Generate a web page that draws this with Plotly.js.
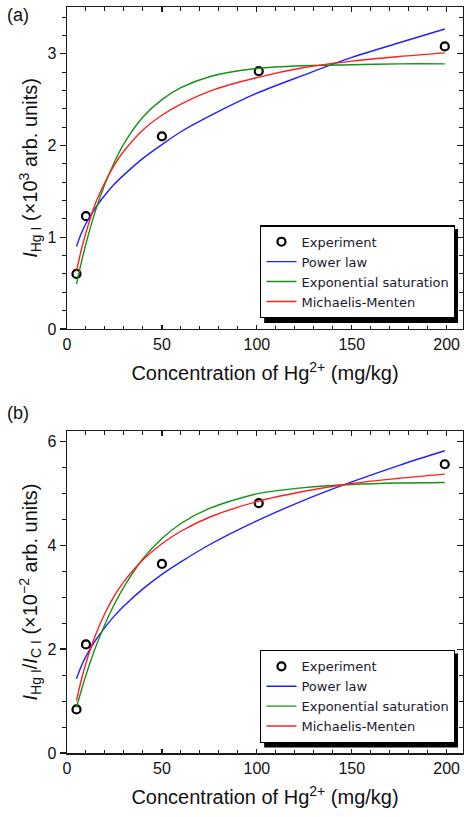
<!DOCTYPE html>
<html>
<head>
<meta charset="utf-8">
<script src="https://cdn.plot.ly/plotly-3.0.1.min.js"></script>
<style>html,body{margin:0;padding:0;background:#fff;}#chart{width:464px;height:817px;}</style>
</head>
<body>
<div id="chart"></div>
<script>
// ---- Data ----
var expX = [5, 10, 50, 101, 199];
// Panel (a): I_HgI (x10^3 arb. units)
var expA = [0.60, 1.23, 2.10, 2.81, 3.08];
// Panel (b): I_HgI / I_CI (x10^-2 arb. units)
var expB = [0.84, 2.09, 3.64, 4.81, 5.56];

var fitX = [5, 7.5, 10, 15, 20, 25, 30, 40, 50, 60, 75, 100, 125, 150, 175, 199];
var powerA = [0.90, 1.04, 1.15, 1.32, 1.46, 1.58, 1.68, 1.86, 2.01, 2.15, 2.32, 2.57, 2.77, 2.96, 3.12, 3.27];
var expSatA = [0.49, 0.72, 0.93, 1.29, 1.58, 1.82, 2.02, 2.31, 2.50, 2.63, 2.75, 2.84, 2.87, 2.88, 2.89, 2.89];
var mmA = [0.63, 0.86, 1.05, 1.37, 1.60, 1.79, 1.94, 2.17, 2.33, 2.45, 2.59, 2.74, 2.85, 2.92, 2.97, 3.01];

var powerB = [1.43, 1.67, 1.86, 2.17, 2.42, 2.64, 2.83, 3.16, 3.44, 3.68, 4.01, 4.47, 4.87, 5.22, 5.54, 5.82];
var expSatB = [0.88, 1.20, 1.50, 2.03, 2.48, 2.87, 3.20, 3.74, 4.13, 4.42, 4.71, 4.99, 5.11, 5.17, 5.20, 5.21];
var mmB = [1.01, 1.40, 1.73, 2.27, 2.69, 3.03, 3.30, 3.72, 4.03, 4.27, 4.54, 4.84, 5.04, 5.19, 5.29, 5.37];

var seriesNames = ["Experiment", "Power law", "Exponential saturation", "Michaelis-Menten"];
var lineColors = ["#1f1fff", "#169016", "#ff1f1f"];

var xTitle = "Concentration of Hg<sup>2+</sup> (mg/kg)";
var yTitleA = "<i>I</i><sub>Hg I</sub> (×10<sup>3</sup> arb. units)";
var yTitleB = "<i>I</i><sub>Hg I</sub>/<i>I</i><sub>C I</sub> (×10<sup>−2</sup> arb. units)";

var FONT = "Liberation Sans, Arial, sans-serif";
var LEGFONT = "DejaVu Sans, Liberation Sans, sans-serif";

function panelTraces(xa, ya, legendId, expY, curves) {
  var tr = [];
  tr.push({
    x: expX, y: expY, xaxis: xa, yaxis: ya, legend: legendId,
    type: "scatter", mode: "markers", name: seriesNames[0],
    marker: {symbol: "circle-open", size: 8, color: "#000", line: {width: 2.2, color: "#000"}},
    hoverinfo: "skip"
  });
  for (var i = 0; i < 3; i++) {
    tr.push({
      x: fitX, y: curves[i], xaxis: xa, yaxis: ya, legend: legendId,
      type: "scatter", mode: "lines", name: seriesNames[i + 1],
      line: {color: lineColors[i], width: 1.4, shape: "spline", smoothing: 0.8},
      hoverinfo: "skip"
    });
  }
  return tr;
}

var traces = []
  .concat(panelTraces("x", "y", "legend", expA, [powerA, expSatA, mmA]))
  .concat(panelTraces("x2", "y2", "legend2", expB, [powerB, expSatB, mmB]));

// empty traces so mirror axes (top / right, inward ticks) are drawn
traces.push({x: [], y: [], xaxis: "x3", yaxis: "y", showlegend: false, hoverinfo: "skip"});
traces.push({x: [], y: [], xaxis: "x", yaxis: "y3", showlegend: false, hoverinfo: "skip"});
traces.push({x: [], y: [], xaxis: "x4", yaxis: "y2", showlegend: false, hoverinfo: "skip"});
traces.push({x: [], y: [], xaxis: "x2", yaxis: "y4", showlegend: false, hoverinfo: "skip"});

var XR = [0, 208.6];
var YRA = [0, 3.51];
var YRB = [0, 6.2];
var domA = [0.5684, 1];
var domB = [0, 0.4316];
var LINE = "#1a1a1a";

function xMain(anchor) {
  return {
    domain: [0, 1], anchor: anchor, range: XR, autorange: false,
    showline: true, linewidth: 1.5, linecolor: LINE, zeroline: false, showgrid: false,
    ticks: "inside", ticklen: 4, tickwidth: 1.3, tickcolor: LINE,
    tick0: 0, dtick: 50,
    minor: {ticks: "inside", ticklen: 3, tickwidth: 1, tickcolor: LINE, dtick: 10, tick0: 0, showgrid: false},
    tickfont: {family: FONT, size: 16, color: "#111"},
    title: {text: xTitle, font: {family: FONT, size: 20, color: "#111"}, standoff: 14},
    automargin: false, fixedrange: true
  };
}
function yMain(anchor, dom, range, dt, mdt, title) {
  return {
    domain: dom, anchor: anchor, range: range, autorange: false,
    showline: true, linewidth: 1.5, linecolor: LINE, zeroline: false, showgrid: false,
    ticks: "outside", ticklen: 6, tickwidth: 1.3, tickcolor: LINE,
    tick0: 0, dtick: dt,
    minor: {ticks: "outside", ticklen: 4, tickwidth: 1, tickcolor: LINE, dtick: mdt, tick0: 0, showgrid: false},
    tickfont: {family: FONT, size: 16, color: "#111"},
    title: {text: title, font: {family: FONT, size: 20, color: "#111"}, standoff: 4},
    automargin: false, fixedrange: true
  };
}
function xMirror(over, anchor) {
  return {
    overlaying: over, anchor: anchor, side: "top", range: XR, autorange: false,
    showline: true, linewidth: 1.5, linecolor: LINE, zeroline: false, showgrid: false,
    ticks: "inside", ticklen: 5, tickwidth: 1.2, tickcolor: LINE, tick0: 0, dtick: 50,
    minor: {ticks: "inside", ticklen: 4, tickwidth: 1, tickcolor: LINE, dtick: 10, tick0: 0, showgrid: false},
    showticklabels: false, automargin: false, fixedrange: true
  };
}
function yMirror(over, anchor, range, dt, mdt) {
  return {
    overlaying: over, anchor: anchor, side: "right", range: range, autorange: false,
    showline: true, linewidth: 1.5, linecolor: LINE, zeroline: false, showgrid: false,
    ticks: "inside", ticklen: 6, tickwidth: 1.2, tickcolor: LINE, tick0: 0, dtick: dt,
    minor: {ticks: "inside", ticklen: 4, tickwidth: 1, tickcolor: LINE, dtick: mdt, tick0: 0, showgrid: false},
    showticklabels: false, automargin: false, fixedrange: true
  };
}

function legendBox(x, y) {
  return {
    x: x, y: y, xanchor: "left", yanchor: "middle", xref: "paper", yref: "paper",
    bgcolor: "#ffffff", bordercolor: "#000", borderwidth: 1.3,
    font: {family: LEGFONT, size: 13, color: "#1a1a2a"},
    traceorder: "normal", itemclick: false, itemdoubleclick: false, tracegroupgap: 0
  };
}

var legAx = 0.4878, legAy = 0.6448;
var legBx = 0.4878, legBy = 0.0757;
// shadow offsets (paper units) for a ~194 x 94 px legend box
var shW = 0.4895, shH = 0.126, shDx = 0.0101, shDy = 0.0054;

var layout = {
  width: 464, height: 817,
  margin: {l: 67, r: 1, t: 7, b: 64, pad: 0},
  paper_bgcolor: "#fff", plot_bgcolor: "#fff",
  showlegend: true,
  font: {family: FONT, color: "#111"},
  xaxis: xMain("y"),
  yaxis: yMain("x", domA, YRA, 1, 0.2, yTitleA),
  xaxis2: xMain("y2"),
  yaxis2: yMain("x2", domB, YRB, 2, 0.5, yTitleB),
  xaxis3: xMirror("x", "y"),
  yaxis3: yMirror("y", "x", YRA, 1, 0.2),
  xaxis4: xMirror("x2", "y2"),
  yaxis4: yMirror("y2", "x2", YRB, 2, 0.5),
  legend: legendBox(legAx, legAy),
  legend2: legendBox(legBx, legBy),
  shapes: [
    {type: "rect", xref: "paper", yref: "paper", layer: "above",
     x0: legAx + shDx, x1: legAx + shDx + shW, y0: legAy - shDy + shH / 2, y1: legAy - shDy - shH / 2,
     fillcolor: "#000", line: {width: 0}},
    {type: "rect", xref: "paper", yref: "paper", layer: "above",
     x0: legBx + shDx, x1: legBx + shDx + shW, y0: legBy - shDy + shH / 2, y1: legBy - shDy - shH / 2,
     fillcolor: "#000", line: {width: 0}}
  ],
  annotations: [
    {text: "(a)", xref: "paper", yref: "paper", x: -0.123, y: 0.989, xanchor: "center", yanchor: "middle",
     showarrow: false, font: {family: FONT, size: 18, color: "#111"}},
    {text: "(b)", xref: "paper", yref: "paper", x: -0.123, y: 0.4558, xanchor: "center", yanchor: "middle",
     showarrow: false, font: {family: FONT, size: 18, color: "#111"}}
  ]
};

Plotly.newPlot("chart", traces, layout, {staticPlot: true, displayModeBar: false});
</script>
</body>
</html>
